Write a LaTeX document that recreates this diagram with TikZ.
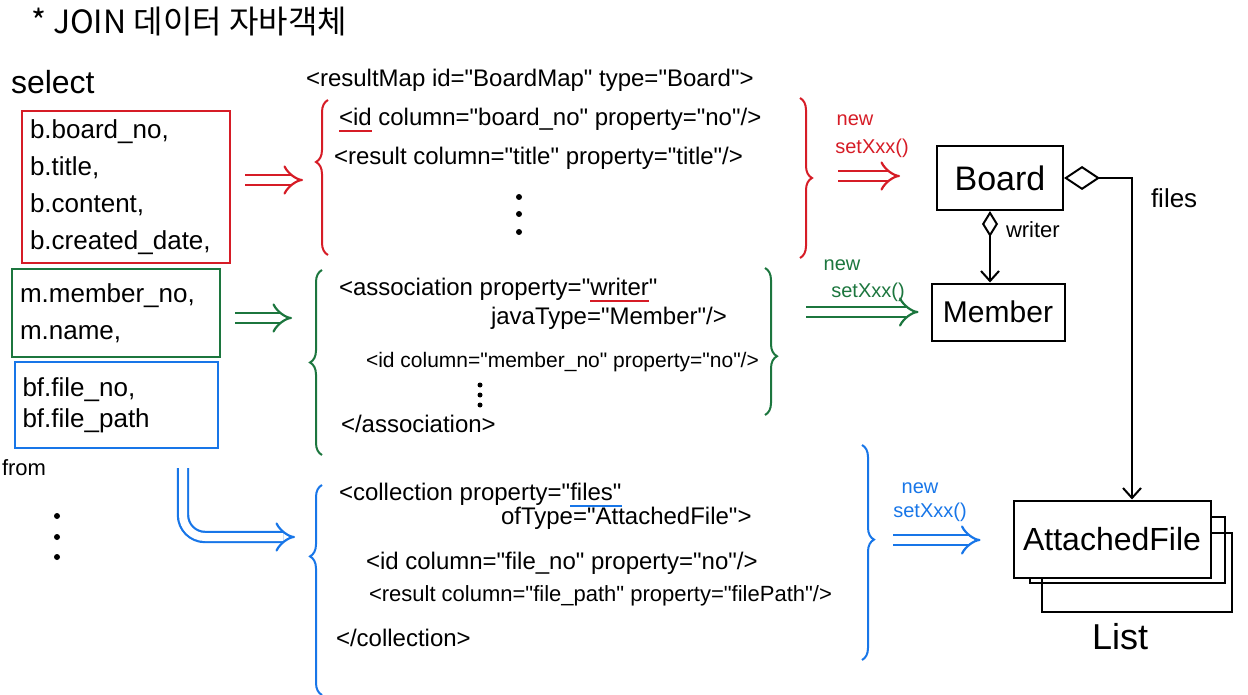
\documentclass[tikz,border=0pt]{standalone}
\usepackage{fontspec}
\setmainfont{Liberation Sans}
\newfontfamily\codefont{Liberation Sans}
\newfontfamily\kofont{Noto Sans CJK KR}
\usetikzlibrary{arrows.meta,decorations.pathreplacing}
\definecolor{hred}{RGB}{214,28,38}
\definecolor{hgreen}{RGB}{28,118,62}
\definecolor{hblue}{RGB}{24,118,232}
\newcommand\markline[2]{\setbox0\hbox{#2}\rlap{\color{#1}\rule[-6pt]{\wd0}{2pt}}\box0\relax}

\begin{document}
\begin{tikzpicture}[x=1pt,y=-1pt,line width=2pt,
  code/.style={anchor=west, inner sep=0pt, font=\codefont\fontsize{24}{28}\selectfont},
  cols/.style={draw, align=left, inner sep=8pt, font=\fontsize{26}{37}\selectfont},
  cls/.style={draw, fill=white, inner sep=0pt, font=\fontsize{32}{36}\selectfont},
  tag/.style={inner sep=0pt, font=\fontsize{20}{24}\selectfont},
  dbl/.style={double, double distance=8pt, line width=2.2pt, -{Implies[scale=1.4]}},
  brc/.style={decorate, decoration={brace, amplitude=12pt, #1}},
  brc/.default={aspect=0.5}]
\useasboundingbox (0,0) rectangle (1248,695);

% title and select part
\node[anchor=west, inner sep=0pt, font=\kofont\fontsize{32}{36}\selectfont] (title) at (30,22) {* JOIN 데이터 자바객체};
\node[anchor=west, inner sep=0pt, font=\fontsize{32}{36}\selectfont] (sel) at (10,82) {select};
\node[cols, hred, text=black, text width=192pt, minimum height=147pt] (bcol) at (126,187) {b.board\_no,\\b.title,\\b.content,\\b.created\_date,};
\node[cols, hgreen, text=black, text width=192pt, minimum height=87pt] (mcol) at (116,313) {m.member\_no,\\m.name,};
\node[cols, hblue, text=black, text width=187pt, minimum height=86pt, font=\fontsize{26}{31}\selectfont] (fcol) at (116,405) {bf.file\_no,\\bf.file\_path};
\node[anchor=west, inner sep=0pt, font=\fontsize{22}{26}\selectfont] (from) at (1,468) {from};
\foreach \y in {516,537,557} \fill (57,\y) circle (3pt);

% resultMap
\node[code] (rmap) at (305,80) {<resultMap id="BoardMap" type="Board">};
\node[code] (rid) at (338,120) {\markline{hred}{<id} column="board\_no" property="no"/>};
\node[code] (rres) at (333,158) {<result column="title" property="title"/>};
\foreach \y in {197,214,232} \fill (519,\y) circle (3pt);
\draw[brc={aspect=0.6}, hred] (328,255) -- (328,100);
\draw[brc, hred] (800,98) -- (800,258);

% association
\node[code] (asso) at (338,290) {<association property="\markline{hred}{writer}"};
\node[code] (jtype) at (490,318) {javaType="Member"/>};
\node[code, font=\codefont\fontsize{21}{26}\selectfont] (aid) at (365,362) {<id column="member\_no" property="no"/>};
\foreach \y in {385,395,405} \fill (480,\y) circle (2.5pt);
\node[code] (aend) at (340,424) {</association>};
\draw[brc, hgreen] (322,455) -- (322,270);
\draw[brc={aspect=0.6}, hgreen] (765,268) -- (765,415);

% collection
\node[code] (coll) at (338,495) {<collection property="\markline{hblue}{files"}};
\node[code] (otype) at (500,518) {ofType="AttachedFile">};
\node[code] (cid) at (365,563) {<id column="file\_no" property="no"/>};
\node[code, font=\codefont\fontsize{22}{26}\selectfont] (cres) at (368,596) {<result column="file\_path" property="filePath"/>};
\node[code] (cend) at (335,638) {</collection>};
\draw[brc={aspect=0.66}, hblue] (322,695) -- (322,485);
\draw[brc={aspect=0.44}, hblue] (862,445) -- (862,660);

% arrows from the select
\coordinate (r1) at (245,180);
\coordinate (r2) at (303,180);
\coordinate (g1) at (235,318);
\coordinate (g2) at (292,318);
\coordinate (b1) at (183,468);
\coordinate (b2) at (295,537);
\draw[dbl, hred] (r1) -- (r2);
\draw[dbl, hgreen] (g1) -- (g2);
\draw[dbl, hblue, rounded corners=22pt] (b1) |- (b2);

% objects
\node[cls, minimum width=126pt, minimum height=64pt, font=\fontsize{34}{38}\selectfont] (board) at (1000,178) {Board};
\node[cls, minimum width=133pt, minimum height=57pt, font=\fontsize{30}{34}\selectfont] (member) at (998,312) {Member};
\node[draw, minimum width=190pt, minimum height=79pt] (af3) at (1137,572) {};
\node[draw, minimum width=195pt, minimum height=66pt] (af2) at (1127,550) {};
\node[cls, minimum width=197pt, minimum height=77pt] (af) at (1112,539) {AttachedFile};
\node[inner sep=0pt, font=\fontsize{36}{40}\selectfont] (list) at (1120,637) {List};

\draw[{Diamond[open,length=36pt,width=24pt]}-{Straight Barb[length=10pt,width=18pt]}] (board.east) -| ([xshift=20pt]af.north);
\draw[{Diamond[open,length=26pt,width=16pt]}-{Straight Barb[length=10pt,width=18pt]}] ([xshift=-10pt]board.south) -- ([xshift=-10pt]board.south |- member.north);
\node[anchor=west, inner sep=0pt, font=\fontsize{22}{26}\selectfont] (wlab) at (1005,230) {writer};
\node[anchor=west, inner sep=0pt, font=\fontsize{26}{30}\selectfont] (flab) at (1150,198) {files};

% new setXxx()
\node[tag, hred] (rnew) at (855,120) {new};
\node[tag, hred] (rset) at (872,148) {setXxx()};
\node[tag, hgreen] (gnew) at (842,265) {new};
\node[tag, hgreen] (gset) at (868,292) {setXxx()};
\node[tag, hblue] (bnew) at (920,488) {new};
\node[tag, hblue] (bset) at (930,512) {setXxx()};
\coordinate (r3) at (838,176);
\coordinate (g3) at (806,312);
\coordinate (b3) at (893,540);
\draw[dbl, hred] (r3) -- ([xshift=-36pt]board.west |- r3);
\draw[dbl, hgreen] (g3) -- ([xshift=-12pt]member.west |- g3);
\draw[dbl, hblue] (b3) -- ([xshift=-32pt]af.west |- b3);
\end{tikzpicture}
\end{document}
